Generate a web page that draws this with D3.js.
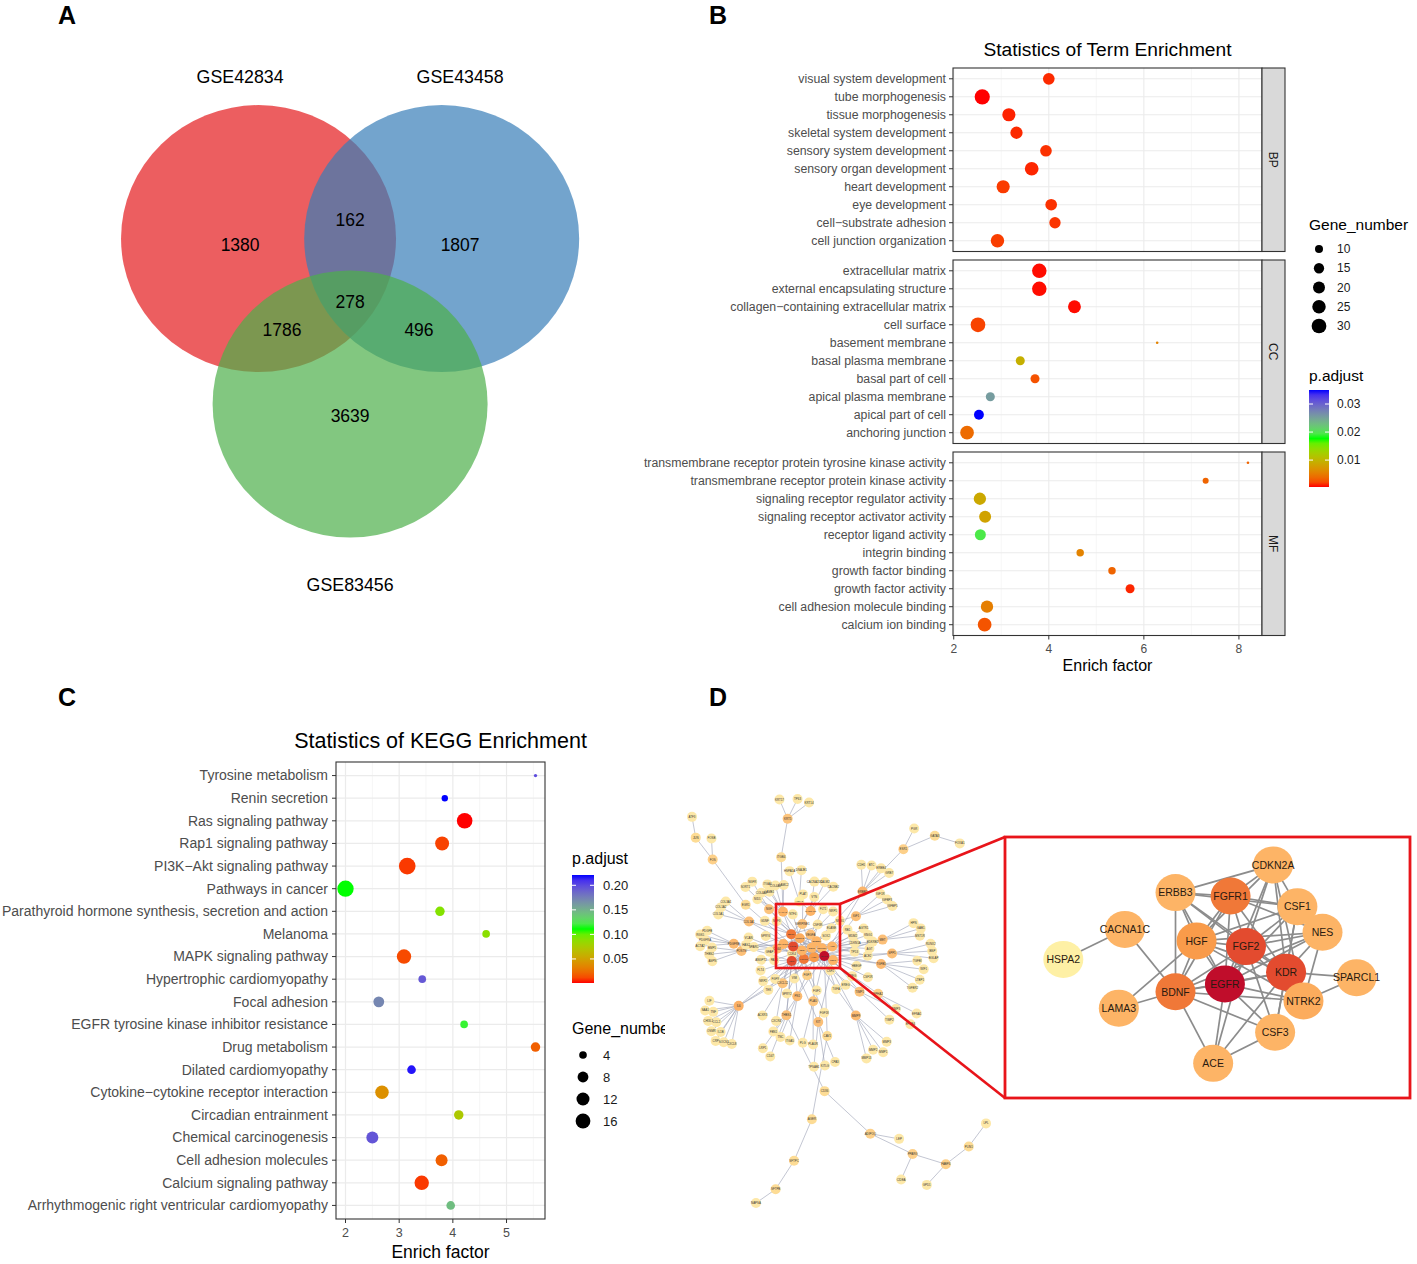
<!DOCTYPE html>
<html><head><meta charset="utf-8">
<script src="https://cdn.jsdelivr.net/npm/d3@7"></script>
<style>body{margin:0;background:#fff}text{font-family:"Liberation Sans",Arial,Helvetica,sans-serif}</style>
</head><body>
<svg id="c" width="1417" height="1264"></svg>
<script>
// ================= DATA =================
// Panel A (Venn)
const vennNames = ["GSE42834","GSE43458","GSE83456"];
const vennColors = ["#E41A1C","#377EB8","#4DAF4A"];
const vennRegions = ["100","010","001","110","101","011","111"];
const vennCounts = [1380,1807,3639,162,1786,496,278];

// Panel B (GO enrichment)
const bpTerms = ["visual system development","tube morphogenesis","tissue morphogenesis","skeletal system development","sensory system development","sensory organ development","heart development","eye development","cell\u2212substrate adhesion","cell junction organization"];
const bpRatio = [4.00,2.60,3.16,3.32,3.94,3.64,3.04,4.05,4.13,2.92];
const bpCount = [19,32,24,21,19,26,24,19,18,25];
const bpP = [0.0010,0.0004,0.0008,0.0010,0.0012,0.0009,0.0015,0.0012,0.0013,0.0016];

const ccTerms = ["extracellular matrix","external encapsulating structure","collagen\u2212containing extracellular matrix","cell surface","basement membrane","basal plasma membrane","basal part of cell","apical plasma membrane","apical part of cell","anchoring junction"];
const ccRatio = [3.80,3.80,4.54,2.51,6.28,3.40,3.71,2.77,2.53,2.28];
const ccCount = [29,29,23,30,5,12,12,12,14,26];
const ccP = [0.0005,0.0005,0.0005,0.0018,0.0056,0.0094,0.0025,0.0255,0.0350,0.0039];

const mfTerms = ["transmembrane receptor protein tyrosine kinase activity","transmembrane receptor protein kinase activity","signaling receptor regulator activity","signaling receptor activator activity","receptor ligand activity","integrin binding","growth factor binding","growth factor activity","cell adhesion molecule binding","calcium ion binding"];
const mfRatio = [8.19,7.30,2.55,2.66,2.56,4.66,5.33,5.71,2.70,2.65];
const mfCount = [5,7,21,20,17,9,9,12,21,26];
const mfP = [0.0035,0.0035,0.0087,0.0082,0.0194,0.0056,0.0035,0.0009,0.0052,0.0026];

const goFacets = ["BP","CC","MF"];
const goXTicks = [2,4,6,8];
const goSizeBreaks = [10,15,20,25,30];
const goPBreaks = [0.01,0.02,0.03];

// Panel C (KEGG)
const keggTerms = ["Tyrosine metabolism","Renin secretion","Ras signaling pathway","Rap1 signaling pathway","PI3K\u2212Akt signaling pathway","Pathways in cancer","Parathyroid hormone synthesis, secretion and action","Melanoma","MAPK signaling pathway","Hypertrophic cardiomyopathy","Focal adhesion","EGFR tyrosine kinase inhibitor resistance","Drug metabolism","Dilated cardiomyopathy","Cytokine\u2212cytokine receptor interaction","Circadian entrainment","Chemical carcinogenesis","Cell adhesion molecules","Calcium signaling pathway","Arrhythmogenic right ventricular cardiomyopathy"];
const keggRatio = [5.54,3.85,4.22,3.80,3.15,2.00,3.76,4.62,3.09,3.43,2.62,4.21,5.54,3.23,2.68,4.11,2.50,3.79,3.42,3.96];
const keggCount = [2,3,18,14,21,20,6,4,15,4,8,4,6,5,13,6,10,10,15,5];
const keggP = [0.199,0.221,0.001,0.0098,0.0076,0.111,0.091,0.089,0.012,0.1935,0.1715,0.1165,0.0186,0.218,0.0406,0.0736,0.195,0.0186,0.0076,0.144];
const keggXTicks = [2,3,4,5];
const keggSizeBreaks = [4,8,12,16];
const keggPBreaks = [0.05,0.10,0.15,0.20];

// Panel D (PPI network)
const hubGenes = ["CDKN2A","ERBB3","FGFR1","CSF1","NES","CACNA1C","HGF","FGF2","HSPA2","KDR","SPARCL1","EGFR","BDNF","NTRK2","LAMA3","CSF3","ACE"];
const hubScore = [6,6,11,6,6,6,9,13,1,13,6,15,11,7,6,6,6];
const hubLayoutX = [0.662,0.421,0.557,0.722,0.784,0.296,0.473,0.595,0.144,0.694,0.868,0.543,0.421,0.737,0.281,0.667,0.514];
const hubLayoutY = [0.107,0.213,0.226,0.267,0.365,0.354,0.398,0.420,0.469,0.518,0.539,0.563,0.593,0.628,0.656,0.748,0.867];
const hubEdges = "HSPA2-CACNA1C CACNA1C-BDNF LAMA3-BDNF LAMA3-HGF ERBB3-CDKN2A ERBB3-FGFR1 ERBB3-HGF ERBB3-BDNF ERBB3-FGF2 ERBB3-EGFR ERBB3-CSF1 ERBB3-KDR FGFR1-CDKN2A FGFR1-CSF1 FGFR1-FGF2 FGFR1-HGF FGFR1-EGFR FGFR1-KDR FGFR1-NES FGFR1-BDNF CDKN2A-CSF1 CDKN2A-FGF2 CDKN2A-EGFR CDKN2A-KDR CDKN2A-HGF CDKN2A-NTRK2 CSF1-FGF2 CSF1-KDR CSF1-HGF CSF1-EGFR CSF1-CSF3 NES-FGF2 NES-HGF NES-BDNF NES-KDR NES-NTRK2 NES-EGFR HGF-FGF2 HGF-EGFR HGF-BDNF HGF-KDR HGF-NTRK2 FGF2-EGFR FGF2-KDR FGF2-BDNF FGF2-NTRK2 FGF2-CSF3 FGF2-ACE KDR-EGFR KDR-SPARCL1 KDR-BDNF KDR-CSF3 KDR-ACE SPARCL1-NTRK2 EGFR-BDNF EGFR-NTRK2 EGFR-CSF3 EGFR-ACE BDNF-NTRK2 BDNF-CSF3 BDNF-ACE CSF3-ACE".split(" ");
const midGenes = "IL6:EGFR,KDR,HGF VEGFA:KDR,FGF2,EGFR MMP9:EGFR,HGF CD44:EGFR,HGF,FGF2 SPP1:CSF1,EGFR FN1:FGF2,EGFR,HGF COL1A1:FGF2,BDNF TGFB1:FGF2,EGFR PDGFRB:FGF2,KDR MET:HGF,EGFR KIT:CSF1,KDR ERBB2:ERBB3,EGFR CXCL12:KDR,FGF2 THBS1:FGF2,KDR SERPINE1:HGF,FGF2 TIMP1:CSF1,HGF POSTN:BDNF,FGF2 IGF1:BDNF,EGFR FGF7:FGFR1,FGF2 NGF:NTRK2,BDNF EPHA2:EGFR PLAU:HGF,EGFR".split(" ");
const leafGenes = "ANGPT2:KDR TEK:KDR FLT1:VEGFA NRP1:VEGFA NRP2:KDR FLT4:KDR FGF1:FGFR1 FGF9:FGFR1 FGF18:FGF7 SPRY2:FGFR1 SPRY4:FGF2 AREG:EGFR EREG:EGFR HBEGF:EGFR BTC:ERBB2 TGFA:EGFR NRG1:ERBB3 ERBB4:ERBB2 NTF3:NTRK2 NTF4:NTRK2 SORT1:NGF NGFR:NGF GDNF:BDNF CCL2:IL6 CXCL8:IL6 IL1B:IL6 TNF:IL6 SOCS3:IL6 OSMR:IL6 LIF:IL6 MMP2:MMP9 MMP1:MMP9 MMP3:MMP9 MMP13:MMP9 TIMP3:TIMP1 TIMP2:TIMP1 COL1A2:COL1A1 COL3A1:COL1A1 COL5A1:COL1A1 COL4A1:LAMA3 COL4A2:LAMA3 LAMB1:LAMA3 LAMC2:LAMA3 NID1:LAMA3 ITGA6:LAMA3 ITGB4:LAMA3 SPARC:SPARCL1 FBN1:FN1 ITGA5:FN1 TNC:FN1 VCAN:CD44 HAS2:CD44 IBSP:SPP1 BGLAP:SPP1 RUNX2:SPP1 CSF1R:CSF1 CSF2:CSF3 CSF3R:CSF3 ELANE:CSF3 AGT:ACE AGTR1:ACE BDKRB2:ACE ACE2:ACE KNG1:ACE CACNB2:CACNA1C CACNA2D1:CACNA1C CALM2:CACNA1C HSPA1A:HSPA2 DNAJB1:HSPA2 CDKN1A:CDKN2A CDK4:CDKN2A MDM2:CDKN2A TP53:CDKN2A RB1:CDKN2A VIM:NES GFAP:NES SOX2:NES PAX6:NES PDGFRA:PDGFRB PDGFB:PDGFRB ACTA2:PDGFRB RGS5:PDGFRB CXCR4:CXCL12 ACKR3:CXCL12 CD47:THBS1 LRP1:THBS1 PLAT:SERPINE1 VTN:SERPINE1 PLAUR:PLAU PLG:PLAU EFNA1:EPHA2 EPHB4:EPHA2 IGFBP3:IGF1 IGFBP5:IGF1 IGF1R:IGF1 KITLG:KIT TPSAB1:KIT CPA3:KIT MST1R:MET HPN:MET GAB1:MET TGFBR2:TGFB1 TGFBI:TGFB1 LTBP1:TGFB1 THBS2:POSTN BMP1:POSTN ASPN:POSTN KRT5:ITGB4 KRT14:KRT5 KRT17:KRT5 TP63:KRT5 CDH1:ERBB2 GRB7:ERBB2 ESR1:ERBB2 PGR:ESR1 GATA3:ESR1 FOXA1:GATA3 CHI3L1:IL6 SAA1:IL6 CRP:IL6 CD36:THBS1 ADIPOQ:CD36 PPARG:ADIPOQ LEP:ADIPOQ FABP4:PPARG CIDEA:PPARG PLIN1:FABP4 LPL:PLIN1 GPD1:FABP4 CAV1:EGFR AGER:CAV1 SFTPC:AGER SFTPB:SFTPC NAPSA:SFTPB WIF1:TGFB1 EGR1:FGF2 FOS:EGR1 FOSB:FOS JUN:FOS ATF3:JUN".split(" ");

// ================= DRAWING =================
const svg = d3.select("#c");
svg.append("rect").attr("width",1417).attr("height",1264).attr("fill","#fff");
const GREY30 = "#4d4d4d", GREY20 = "#333333";

const letters = [["A",58,24],["B",709,24],["C",58,706],["D",709,706]];
svg.selectAll("text.letter").data(letters).join("text").attr("class","letter")
  .attr("x",d=>d[1]).attr("y",d=>d[2]).text(d=>d[0])
  .attr("font-size",25).attr("font-weight","bold").attr("fill","#000");

function pColor(ext){
  return d3.scaleLinear().domain([ext[0],(ext[0]+ext[1])/2,ext[1]])
    .range(["#ff0000","#00ff00","#0000ff"]).interpolate(d3.interpolateLab);
}
function sizeR(ext, dmin, dmax){
  const n = d3.scaleLinear().domain(ext).range([0,1]).clamp(true);
  const d = d3.scaleLinear().domain([0,1]).range([dmin,dmax]);
  return v => d(Math.sqrt(n(v)))/2;
}
function gradient(id, col, ext){
  const g = svg.append("defs").append("linearGradient").attr("id",id)
    .attr("x1",0).attr("y1",1).attr("x2",0).attr("y2",0);
  d3.range(0,1.0001,0.05).forEach(t=>{
    g.append("stop").attr("offset",t).attr("stop-color",col(ext[0]+t*(ext[1]-ext[0])));
  });
}

// ---------- Panel A: Venn ----------
{
  const cx = 350.1, cy = 293.7;
  const vx = d3.scaleLinear().domain([-1,1]).range([cx-137.5,cx+137.5]);
  const vy = d3.scaleLinear().domain([-1,1]).range([cy-133.5,cy+133.5]);
  const circleLayout = [[-0.666,-0.413],[0.666,-0.413],[0,0.826]];
  const regionLayout = [[-0.80,-0.365],[0.80,-0.365],[0,0.916],[0,-0.552],[-0.495,0.272],[0.501,0.272],[0,0.06]];
  const nameLayout = [[-0.80,-1.63],[0.80,-1.63],[0,2.18]];
  const g = svg.append("g");
  g.selectAll("ellipse").data(vennNames).join("ellipse")
    .attr("cx",(d,i)=>vx(circleLayout[i][0])).attr("cy",(d,i)=>vy(circleLayout[i][1]))
    .attr("rx",vx(1)-vx(0)).attr("ry",vy(1)-vy(0))
    .attr("fill",(d,i)=>vennColors[i]).attr("fill-opacity",0.7);
  g.selectAll("text.cnt").data(vennCounts).join("text").attr("class","cnt")
    .attr("x",(d,i)=>vx(regionLayout[i][0])).attr("y",(d,i)=>vy(regionLayout[i][1]))
    .attr("dy","0.36em").attr("text-anchor","middle").attr("font-size",17.5).text(d=>d);
  g.selectAll("text.nm").data(vennNames).join("text").attr("class","nm")
    .attr("x",(d,i)=>vx(nameLayout[i][0])).attr("y",(d,i)=>vy(nameLayout[i][1]))
    .attr("dy","0.36em").attr("text-anchor","middle").attr("font-size",17.8).text(d=>d);
}

// ---------- Panel B: GO dot plot ----------
{
  const facets = [
    {name:"BP",terms:bpTerms,ratio:bpRatio,count:bpCount,p:bpP},
    {name:"CC",terms:ccTerms,ratio:ccRatio,count:ccCount,p:ccP},
    {name:"MF",terms:mfTerms,ratio:mfRatio,count:mfCount,p:mfP}];
  const allR = [].concat(bpRatio,ccRatio,mfRatio);
  const allP = [].concat(bpP,ccP,mfP);
  const allC = [].concat(bpCount,ccCount,mfCount);
  const re = d3.extent(allR), pad = (re[1]-re[0])*0.05;
  const L = 953, R = 1262;
  const x = d3.scaleLinear().domain([re[0]-pad,re[1]+pad]).range([L,R]);
  const pe = d3.extent(allP), col = pColor(pe);
  const rs = sizeR(d3.extent(allC), 2.6, 15.2);
  const top0 = 68, ph = 183.5, gap = 8.5;
  const g = svg.append("g");
  facets.forEach((f,fi)=>{
    const t = top0 + fi*(ph+gap), b = t+ph;
    const y = d3.scalePoint().domain(f.terms).range([t,b]).padding(0.6);
    const pg = g.append("g");
    pg.append("rect").attr("x",L).attr("y",t).attr("width",R-L).attr("height",ph).attr("fill","#fff");
    pg.selectAll("line.mn").data([3,5,7]).join("line").attr("x1",d=>x(d)).attr("x2",d=>x(d))
      .attr("y1",t).attr("y2",b).attr("stroke","#f2f2f2").attr("stroke-width",0.6);
    pg.selectAll("line.mj").data(goXTicks).join("line").attr("x1",d=>x(d)).attr("x2",d=>x(d))
      .attr("y1",t).attr("y2",b).attr("stroke","#ebebeb").attr("stroke-width",1.1);
    pg.selectAll("line.hz").data(f.terms).join("line").attr("x1",L).attr("x2",R)
      .attr("y1",d=>y(d)).attr("y2",d=>y(d)).attr("stroke","#ebebeb").attr("stroke-width",1.1);
    pg.selectAll("circle").data(f.terms).join("circle")
      .attr("cx",(d,i)=>x(f.ratio[i])).attr("cy",d=>y(d)).attr("r",(d,i)=>rs(f.count[i]))
      .attr("fill",(d,i)=>col(f.p[i]));
    pg.append("rect").attr("x",L).attr("y",t).attr("width",R-L).attr("height",ph)
      .attr("fill","none").attr("stroke",GREY20).attr("stroke-width",1.1);
    pg.selectAll("line.tk").data(f.terms).join("line").attr("x1",L-4).attr("x2",L)
      .attr("y1",d=>y(d)).attr("y2",d=>y(d)).attr("stroke",GREY20);
    pg.selectAll("text.yl").data(f.terms).join("text").attr("x",L-7).attr("y",d=>y(d))
      .attr("dy","0.35em").attr("text-anchor","end").attr("font-size",12.3).attr("fill",GREY30).text(d=>d);
    pg.append("rect").attr("x",R).attr("y",t).attr("width",23).attr("height",ph)
      .attr("fill","#d9d9d9").attr("stroke",GREY20).attr("stroke-width",1.1);
    pg.append("text").attr("transform",`translate(${R+11.5},${t+ph/2}) rotate(90)`)
      .attr("text-anchor","middle").attr("dy","0.35em").attr("font-size",12).attr("fill","#1a1a1a").text(f.name);
    if(fi===2){
      pg.selectAll("line.xt").data(goXTicks).join("line").attr("x1",d=>x(d)).attr("x2",d=>x(d))
        .attr("y1",b).attr("y2",b+4).attr("stroke",GREY20);
      pg.selectAll("text.xl").data(goXTicks).join("text").attr("x",d=>x(d)).attr("y",b+17)
        .attr("text-anchor","middle").attr("font-size",12).attr("fill",GREY30).text(d=>d);
    }
  });
  g.append("text").attr("x",(L+R)/2).attr("y",56).attr("text-anchor","middle").attr("font-size",19.2).text("Statistics of Term Enrichment");
  g.append("text").attr("x",(L+R)/2).attr("y",671).attr("text-anchor","middle").attr("font-size",16).text("Enrich factor");
  g.append("text").attr("x",1309).attr("y",230).attr("font-size",15.5).text("Gene_number");
  const ly = d3.scalePoint().domain(goSizeBreaks).range([249,326]);
  g.selectAll("circle.lg").data(goSizeBreaks).join("circle").attr("cx",1319).attr("cy",d=>ly(d)).attr("r",d=>rs(d)).attr("fill","#000");
  g.selectAll("text.lg").data(goSizeBreaks).join("text").attr("x",1337).attr("y",d=>ly(d)).attr("dy","0.35em").attr("font-size",12).attr("fill","#1a1a1a").text(d=>d);
  g.append("text").attr("x",1309).attr("y",381).attr("font-size",15.5).text("p.adjust");
  gradient("gB", col, pe);
  const by = d3.scaleLinear().domain(pe).range([487,390]);
  g.append("rect").attr("x",1309).attr("y",390).attr("width",20).attr("height",97).attr("fill","url(#gB)");
  goPBreaks.forEach(v=>{
    g.append("line").attr("x1",1309).attr("x2",1313).attr("y1",by(v)).attr("y2",by(v)).attr("stroke","#fff");
    g.append("line").attr("x1",1325).attr("x2",1329).attr("y1",by(v)).attr("y2",by(v)).attr("stroke","#fff");
  });
  g.selectAll("text.pb").data(goPBreaks).join("text").attr("x",1337).attr("y",d=>by(d)).attr("dy","0.35em")
    .attr("font-size",12).attr("fill","#1a1a1a").text(d=>d.toFixed(2));
}

// ---------- Panel C: KEGG dot plot ----------
{
  const L = 336, R = 545, T = 762, B = 1219;
  const re = d3.extent(keggRatio), pad = (re[1]-re[0])*0.05;
  const x = d3.scaleLinear().domain([re[0]-pad,re[1]+pad]).range([L,R]);
  const y = d3.scalePoint().domain(keggTerms).range([T,B]).padding(0.6);
  const pe = d3.extent(keggP), col = pColor(pe);
  const rs = sizeR(d3.extent(keggCount), 3.3, 16.7);
  const g = svg.append("g");
  g.append("rect").attr("x",L).attr("y",T).attr("width",R-L).attr("height",B-T).attr("fill","#fff");
  g.selectAll("line.mn").data([2.5,3.5,4.5,5.5]).join("line").attr("x1",d=>x(d)).attr("x2",d=>x(d))
    .attr("y1",T).attr("y2",B).attr("stroke","#f2f2f2").attr("stroke-width",0.7);
  g.selectAll("line.mj").data(keggXTicks).join("line").attr("x1",d=>x(d)).attr("x2",d=>x(d))
    .attr("y1",T).attr("y2",B).attr("stroke","#ebebeb").attr("stroke-width",1.2);
  g.selectAll("line.hz").data(keggTerms).join("line").attr("x1",L).attr("x2",R)
    .attr("y1",d=>y(d)).attr("y2",d=>y(d)).attr("stroke","#ebebeb").attr("stroke-width",1.2);
  g.selectAll("circle.pt").data(keggTerms).join("circle").attr("class","pt")
    .attr("cx",(d,i)=>x(keggRatio[i])).attr("cy",d=>y(d)).attr("r",(d,i)=>rs(keggCount[i]))
    .attr("fill",(d,i)=>col(keggP[i]));
  g.append("rect").attr("x",L).attr("y",T).attr("width",R-L).attr("height",B-T)
    .attr("fill","none").attr("stroke",GREY20).attr("stroke-width",1.1);
  g.selectAll("line.tk").data(keggTerms).join("line").attr("x1",L-4).attr("x2",L)
    .attr("y1",d=>y(d)).attr("y2",d=>y(d)).attr("stroke",GREY20);
  g.selectAll("text.yl").data(keggTerms).join("text").attr("x",L-8).attr("y",d=>y(d))
    .attr("dy","0.35em").attr("text-anchor","end").attr("font-size",14).attr("fill",GREY30).text(d=>d);
  g.selectAll("line.xt").data(keggXTicks).join("line").attr("x1",d=>x(d)).attr("x2",d=>x(d))
    .attr("y1",B).attr("y2",B+4).attr("stroke",GREY20);
  g.selectAll("text.xl").data(keggXTicks).join("text").attr("x",d=>x(d)).attr("y",B+18)
    .attr("text-anchor","middle").attr("font-size",12.5).attr("fill",GREY30).text(d=>d);
  g.append("text").attr("x",(L+R)/2).attr("y",748).attr("text-anchor","middle").attr("font-size",21.5).text("Statistics of KEGG Enrichment");
  g.append("text").attr("x",(L+R)/2).attr("y",1258).attr("text-anchor","middle").attr("font-size",17.5).text("Enrich factor");
  g.append("text").attr("x",572).attr("y",864).attr("font-size",16).text("p.adjust");
  gradient("gC", col, pe);
  const by = d3.scaleLinear().domain(pe).range([983,875]);
  g.append("rect").attr("x",572).attr("y",875).attr("width",22).attr("height",108).attr("fill","url(#gC)");
  keggPBreaks.forEach(v=>{
    g.append("line").attr("x1",572).attr("x2",576).attr("y1",by(v)).attr("y2",by(v)).attr("stroke","#fff");
    g.append("line").attr("x1",590).attr("x2",594).attr("y1",by(v)).attr("y2",by(v)).attr("stroke","#fff");
  });
  g.selectAll("text.pb").data(keggPBreaks).join("text").attr("x",603).attr("y",d=>by(d)).attr("dy","0.35em")
    .attr("font-size",13).attr("fill","#1a1a1a").text(d=>d.toFixed(2));
  svg.append("defs").append("clipPath").attr("id","clipC").append("rect").attr("x",560).attr("y",1000).attr("width",105).attr("height",60);
  g.append("text").attr("x",572).attr("y",1034).attr("font-size",16).attr("clip-path","url(#clipC)").text("Gene_number");
  const ly = d3.scalePoint().domain(keggSizeBreaks).range([1055,1121]);
  g.selectAll("circle.lg").data(keggSizeBreaks).join("circle").attr("class","lg").attr("cx",583).attr("cy",d=>ly(d)).attr("r",d=>rs(d)).attr("fill","#000");
  g.selectAll("text.lg").data(keggSizeBreaks).join("text").attr("x",603).attr("y",d=>ly(d)).attr("dy","0.35em").attr("font-size",13).attr("fill","#1a1a1a").text(d=>d);
}

// ---------- Panel D: network ----------
{
  const nodes = [], links = [], idx = new Map();
  const add = (id,type)=>{ if(!idx.has(id)){ const n={id,type}; idx.set(id,n); nodes.push(n);} return idx.get(id); };
  hubGenes.forEach((gname,i)=>{ const n = add(gname,"hub"); n.score = hubScore[i]; n.lx = hubLayoutX[i]; n.ly = hubLayoutY[i]; });
  hubEdges.forEach(e=>{ const [a,b]=e.split("-"); links.push({source:a,target:b,kind:"hub"}); });
  midGenes.forEach(s=>{ const [gname,ps]=s.split(":"); add(gname,"mid"); ps.split(",").forEach(p=>links.push({source:gname,target:p,kind:"mid"})); });
  leafGenes.forEach(s=>{ const [gname,p]=s.split(":"); add(gname,"leaf"); links.push({source:gname,target:p,kind:"leaf"}); });
  const insetLinks = hubEdges.map(e=>{ const [a,b]=e.split("-"); return {a:idx.get(a), b:idx.get(b)}; });

  const pull = d=>d.type==="hub"?0.25:d.type==="mid"?0.08:0.02;
  const sim = d3.forceSimulation(nodes)
    .force("link", d3.forceLink(links).id(d=>d.id).distance(l=>l.kind==="hub"?12:l.kind==="mid"?18:30))
    .force("charge", d3.forceManyBody().strength(d=>d.type==="leaf"?-22:-16).distanceMax(250))
    .force("x", d3.forceX(0).strength(pull)).force("y", d3.forceY(0).strength(pull))
    .force("collide", d3.forceCollide(6))
    .stop();
  for(let i=0;i<700;i++) sim.tick();
  nodes.forEach(n=>n.deg=0); links.forEach(l=>{l.source.deg++; l.target.deg++;});

  const hubs = nodes.filter(n=>n.type==="hub");
  const coreHubs = hubs.filter(n=>n.score>1);
  // orient the layout so that its longest branch points down-right
  const c0x = d3.mean(coreHubs,n=>n.x), c0y = d3.mean(coreHubs,n=>n.y);
  const far = d3.greatest(nodes, n=>Math.hypot(n.x-c0x,n.y-c0y));
  const rot = Math.atan2(267,140) - Math.atan2(far.y-c0y, far.x-c0x);
  nodes.forEach(n=>{
    const dx=n.x-c0x, dy=n.y-c0y;
    n.rx = dx*Math.cos(rot)-dy*Math.sin(rot); n.ry = dx*Math.sin(rot)+dy*Math.cos(rot);
  });
  const ex = d3.extent(nodes,n=>n.rx), ey = d3.extent(nodes,n=>n.ry);
  const hxe = d3.extent(coreHubs,n=>n.rx), hye = d3.extent(coreHubs,n=>n.ry);
  const nx = d3.scaleLinear().domain([ex[0],hxe[0],hxe[1],ex[1]]).range([692,783,833,986]);
  const ny = d3.scaleLinear().domain([ey[0],hye[0],hye[1],ey[1]]).range([799,911,961,1203]);

  const scoreCol = d3.scaleLinear().domain([1,6,9,11,13,15])
    .range(["#fef0a5","#fdb466","#f99b4a","#f07838","#e34b2f","#c00d2b"]);
  const degCol = d3.scaleLinear().domain([1,2,4,8]).range(["#fde8a8","#fddc95","#fcc47c","#fbb066"]).clamp(true);
  const nodeCol = n => n.type==="hub" ? scoreCol(n.score) : degCol(n.deg);

  const g = svg.append("g");
  g.selectAll("line.e").data(links).join("line")
    .attr("x1",l=>nx(l.source.rx)).attr("y1",l=>ny(l.source.ry)).attr("x2",l=>nx(l.target.rx)).attr("y2",l=>ny(l.target.ry))
    .attr("stroke","#9aa0b4").attr("stroke-width",0.6);
  const order = nodes.slice().sort((a,b)=>(a.type==="hub")-(b.type==="hub"));
  g.selectAll("circle.n").data(order).join("circle")
    .attr("cx",n=>nx(n.rx)).attr("cy",n=>ny(n.ry)).attr("r",5).attr("fill",nodeCol);
  g.selectAll("text.n").data(order).join("text")
    .attr("x",n=>nx(n.rx)).attr("y",n=>ny(n.ry)).attr("dy","0.35em").attr("text-anchor","middle")
    .attr("font-size",n=>n.type==="hub"?2.4:2.9).attr("fill","#333").text(n=>n.id);

  const rx0 = nx(hxe[0])-7, rx1 = nx(hxe[1])+7, ry0 = ny(hye[0])-7, ry1 = ny(hye[1])+7;
  const IL = 1005, IR = 1410, IT = 837, IB = 1098;
  g.append("rect").attr("x",rx0).attr("y",ry0).attr("width",rx1-rx0).attr("height",ry1-ry0)
    .attr("fill","none").attr("stroke","#e8141a").attr("stroke-width",2.6);
  g.append("line").attr("x1",rx1).attr("y1",ry0).attr("x2",IL).attr("y2",IT).attr("stroke","#e8141a").attr("stroke-width",2.6);
  g.append("line").attr("x1",rx1).attr("y1",ry1).attr("x2",IL).attr("y2",IB).attr("stroke","#e8141a").attr("stroke-width",2.6);

  const ix = d3.scaleLinear().domain([0,1]).range([IL,IR]);
  const iy = d3.scaleLinear().domain([0,1]).range([IT,IB]);
  g.append("rect").attr("x",IL).attr("y",IT).attr("width",IR-IL).attr("height",IB-IT)
    .attr("fill","#fff").attr("stroke","#e8141a").attr("stroke-width",2.8);
  g.selectAll("line.ie").data(insetLinks).join("line")
    .attr("x1",l=>ix(l.a.lx)).attr("y1",l=>iy(l.a.ly)).attr("x2",l=>ix(l.b.lx)).attr("y2",l=>iy(l.b.ly))
    .attr("stroke","#8c8c8c").attr("stroke-width",1.7);
  g.selectAll("ellipse.in").data(hubs).join("ellipse")
    .attr("cx",n=>ix(n.lx)).attr("cy",n=>iy(n.ly)).attr("rx",20).attr("ry",18.5).attr("fill",n=>scoreCol(n.score));
  g.selectAll("text.in").data(hubs).join("text")
    .attr("x",n=>ix(n.lx)).attr("y",n=>iy(n.ly)).attr("dy","0.36em").attr("text-anchor","middle")
    .attr("font-size",10.5).attr("fill","#2a1a10").text(n=>n.id);
}
</script>
</body></html>
